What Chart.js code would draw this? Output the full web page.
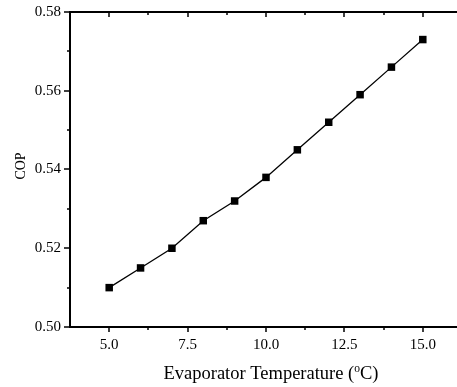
<!DOCTYPE html>
<html lang="en">
<head>
  <meta charset="UTF-8">
  <title>COP vs Evaporator Temperature</title>
  <script src="https://cdn.jsdelivr.net/npm/chart.js"></script>
  <style>
    html, body {
      margin: 0;
      padding: 0;
      background: #fff;
      overflow: hidden;
    }
    #wrap {
      width: 470px;
      height: 387px;
    }
  </style>
</head>
<body>
  <div id="wrap"><canvas id="copChart"></canvas></div>

  <script>
    // data
    const temps = [5, 6, 7, 8, 9, 10, 11, 12, 13, 14, 15];
    const cop = [0.510, 0.515, 0.520, 0.527, 0.532, 0.538, 0.545, 0.552, 0.559, 0.566, 0.573];

    const xTicks = [5, 7.5, 10, 12.5, 15];
    const yTicks = [0.50, 0.52, 0.54, 0.56, 0.58];
    const xMinor = [6.25, 8.75, 11.25, 13.75];
    const yMinor = [0.51, 0.53, 0.55, 0.57];

    const FONT = "'Liberation Serif', 'Times New Roman', serif";

    // axis frame, tick marks and titles (title has a superscript o)
    const framePlugin = {
      id: 'frame',
      afterDraw(chart) {
        const ctx = chart.ctx;
        const a = chart.chartArea;
        const xs = chart.scales.x, ys = chart.scales.y;
        ctx.save();
        ctx.strokeStyle = '#000';
        ctx.lineWidth = 2;
        ctx.beginPath();
        ctx.moveTo(a.left, a.bottom); ctx.lineTo(a.right, a.bottom);
        ctx.moveTo(a.left, a.top); ctx.lineTo(a.right, a.top);
        ctx.moveTo(a.left, a.top - 1); ctx.lineTo(a.left, a.bottom + 1);
        ctx.stroke();

        ctx.lineWidth = 1.5;
        ctx.beginPath();
        xTicks.forEach(v => {
          const px = Math.round(xs.getPixelForValue(v));
          ctx.moveTo(px, a.bottom); ctx.lineTo(px, a.bottom + 5);
          ctx.moveTo(px, a.top); ctx.lineTo(px, a.top + 5);
        });
        xMinor.forEach(v => {
          const px = Math.round(xs.getPixelForValue(v));
          ctx.moveTo(px, a.bottom); ctx.lineTo(px, a.bottom + 3);
          ctx.moveTo(px, a.top); ctx.lineTo(px, a.top + 3);
        });
        yTicks.forEach(v => {
          const py = Math.round(ys.getPixelForValue(v));
          ctx.moveTo(a.left, py); ctx.lineTo(a.left - 6, py);
        });
        yMinor.forEach(v => {
          const py = Math.round(ys.getPixelForValue(v));
          ctx.moveTo(a.left, py); ctx.lineTo(a.left - 3, py);
        });
        ctx.stroke();

        // x title
        ctx.fillStyle = '#000';
        ctx.textBaseline = 'alphabetic';
        const big = '18.5px ' + FONT, small = '11.5px ' + FONT;
        const parts = [['Evaporator Temperature (', big, 0], ['o', small, -7], ['C)', big, 0]];
        let total = 0;
        parts.forEach(p => { ctx.font = p[1]; total += ctx.measureText(p[0]).width; });
        let x = 271 - total / 2;
        const base = 379;
        ctx.textAlign = 'left';
        parts.forEach(p => {
          ctx.font = p[1];
          ctx.fillText(p[0], x, base + p[2]);
          x += ctx.measureText(p[0]).width;
        });

        // y title
        ctx.font = '14px ' + FONT;
        ctx.translate(21, 166);
        ctx.rotate(-Math.PI / 2);
        ctx.textAlign = 'center';
        ctx.textBaseline = 'middle';
        ctx.fillText('COP', 0, 0);
        ctx.restore();
      }
    };

    new Chart(document.getElementById('copChart'), {
      type: 'line',
      data: {
        datasets: [{
          data: temps.map((t, i) => ({ x: t, y: cop[i] })),
          borderColor: '#000',
          borderWidth: 1.3,
          backgroundColor: '#000',
          pointStyle: 'rect',
          pointRadius: 5.3,
          pointBorderWidth: 0,
          tension: 0
        }]
      },
      options: {
        responsive: true,
        maintainAspectRatio: false,
        animation: false,
        devicePixelRatio: 1,
        layout: { padding: { top: 12, right: 8, left: 0, bottom: 0 } },
        plugins: {
          legend: { display: false },
          tooltip: { enabled: false }
        },
        scales: {
          x: {
            type: 'linear',
            min: 3.75,
            max: 16.25,
            grid: { display: false, drawTicks: false },
            border: { display: false },
            afterBuildTicks: s => { s.ticks = xTicks.map(v => ({ value: v })); },
            afterFit: s => { s.height = 60; s.paddingLeft = 0; s.paddingRight = 0; },
            ticks: {
              padding: 9,
              color: '#000',
              font: { family: FONT, size: 15 },
              maxRotation: 0,
              callback: v => Number(v).toFixed(1)
            }
          },
          y: {
            min: 0.5,
            max: 0.58,
            grid: { display: false, drawTicks: false },
            border: { display: false },
            afterBuildTicks: s => { s.ticks = yTicks.map(v => ({ value: v })); },
            afterFit: s => { s.width = 70; s.paddingTop = 0; s.paddingBottom = 0; },
            ticks: {
              padding: 9,
              color: '#000',
              font: { family: FONT, size: 15 },
              callback: v => Number(v).toFixed(2)
            }
          }
        }
      },
      plugins: [framePlugin]
    });
  </script>
</body>
</html>
